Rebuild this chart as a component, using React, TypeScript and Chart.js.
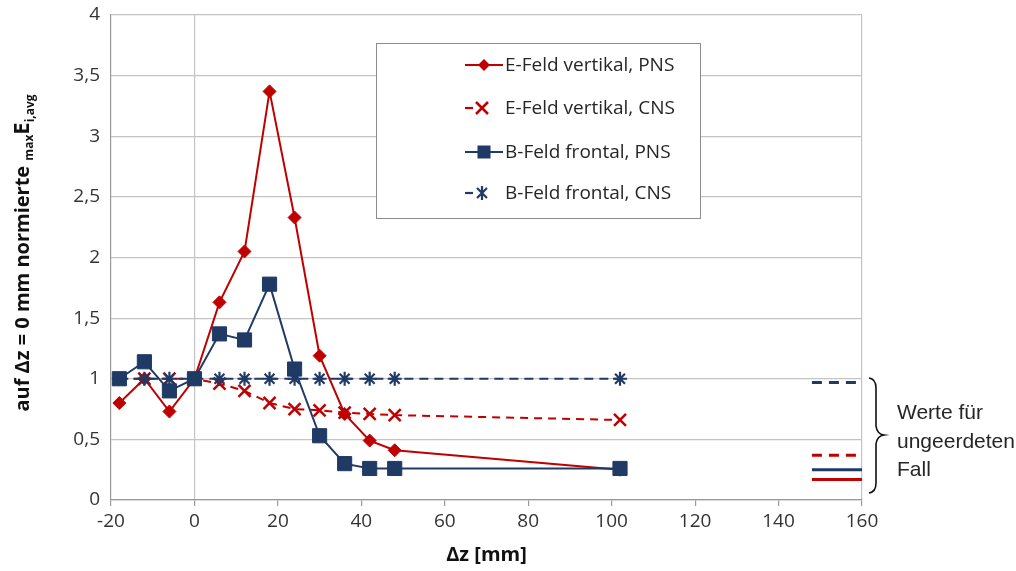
import React, { useEffect, useRef } from 'react';
import { Chart, registerables } from 'chart.js';

Chart.register(...registerables);

// ---- data ----
const dzValues = [-18, -12, -6, 0, 6, 12, 18, 24, 30, 36, 42, 48, 102];
const eVertPNS = [0.8, 1.0, 0.73, 1.0, 1.63, 2.05, 3.37, 2.33, 1.19, 0.71, 0.49, 0.41, 0.25];
const eVertCNS = [1.0, 1.0, 1.0, 1.0, 0.96, 0.9, 0.8, 0.75, 0.74, 0.72, 0.71, 0.7, 0.66];
const bFrontPNS = [1.0, 1.14, 0.9, 1.0, 1.37, 1.32, 1.78, 1.08, 0.53, 0.3, 0.26, 0.26, 0.26];
const bFrontCNS = [1.0, 1.0, 1.0, 1.0, 1.0, 1.0, 1.0, 1.0, 1.0, 1.0, 1.0, 1.0, 1.0];

// ungrounded case reference values (short lines at the right)
const ungroundedX = [148, 160];
const ungroundedEPNS = [0.17, 0.17];
const ungroundedECNS = [0.37, 0.37];
const ungroundedBPNS = [0.25, 0.25];
const ungroundedBCNS = [0.97, 0.97];

const seriesLabels = ['E-Feld vertikal, PNS', 'E-Feld vertikal, CNS', 'B-Feld frontal, PNS', 'B-Feld frontal, CNS'];
const annotationLines = ['Werte für', 'ungeerdeten', 'Fall'];
const xTitle = 'Δz [mm]';
const yTitleMain = 'auf Δz = 0 mm normierte ';
const yTitlePre = 'max';
const yTitleE = 'E';
const yTitleSub = 'i,avg';

const RED = '#C00000';
const BLUE = '#1F3A64';
const GRID = '#c4c4c4';
const FONT = '"Open Sans", "DejaVu Sans", sans-serif';

const pts = (xs: number[], ys: number[]) => xs.map((x, i) => ({ x, y: ys[i] }));

function drawMarker(ctx: CanvasRenderingContext2D, kind: string, x: number, y: number, color: string) {
  ctx.save();
  ctx.fillStyle = color;
  ctx.strokeStyle = color;
  ctx.setLineDash([]);
  if (kind === 'diamond') {
    const r = 6;
    ctx.beginPath();
    ctx.moveTo(x, y - r);
    ctx.lineTo(x + r, y);
    ctx.lineTo(x, y + r);
    ctx.lineTo(x - r, y);
    ctx.closePath();
    ctx.fill();
  } else if (kind === 'square') {
    const s = 6.5;
    ctx.fillRect(x - s, y - s, 2 * s, 2 * s);
  } else if (kind === 'x') {
    const r = 6;
    ctx.lineWidth = 2.5;
    ctx.beginPath();
    ctx.moveTo(x - r, y - r);
    ctx.lineTo(x + r, y + r);
    ctx.moveTo(x + r, y - r);
    ctx.lineTo(x - r, y + r);
    ctx.stroke();
  } else if (kind === 'star') {
    const r = 7;
    const d = r * Math.SQRT1_2;
    ctx.lineWidth = 2.2;
    ctx.beginPath();
    ctx.moveTo(x, y - r);
    ctx.lineTo(x, y + r);
    ctx.moveTo(x - d, y - d);
    ctx.lineTo(x + d, y + d);
    ctx.moveTo(x + d, y - d);
    ctx.lineTo(x - d, y + d);
    ctx.stroke();
  }
  ctx.restore();
}

const overlayPlugin = {
  id: 'overlay',
  afterDraw(chart: any) {
    const ctx: CanvasRenderingContext2D = chart.ctx;

    // ---- legend box ----
    ctx.save();
    ctx.fillStyle = '#ffffff';
    ctx.fillRect(376.5, 43.5, 324, 175);
    ctx.strokeStyle = '#8c8c8c';
    ctx.lineWidth = 1;
    ctx.strokeRect(376.5, 43.5, 324, 175);
    const rows = [
      { y: 65, color: RED, marker: 'diamond', dashed: false },
      { y: 108, color: RED, marker: 'x', dashed: true },
      { y: 152, color: BLUE, marker: 'square', dashed: false },
      { y: 193, color: BLUE, marker: 'star', dashed: true },
    ];
    rows.forEach((r, i) => {
      ctx.strokeStyle = r.color;
      ctx.lineWidth = 2.2;
      ctx.beginPath();
      if (r.dashed) {
        ctx.moveTo(465, r.y);
        ctx.lineTo(473, r.y);
      } else {
        ctx.moveTo(465, r.y);
        ctx.lineTo(503, r.y);
      }
      ctx.stroke();
      drawMarker(ctx, r.marker, r.dashed ? 482 : 484, r.y, r.color);
      ctx.fillStyle = '#262626';
      ctx.font = `19px ${FONT}`;
      ctx.textBaseline = 'middle';
      ctx.textAlign = 'left';
      ctx.fillText(seriesLabels[i], 505, r.y + 1);
    });
    ctx.restore();

    // ---- y axis title (with subscripts) ----
    ctx.save();
    ctx.translate(22, 253);
    ctx.rotate(-Math.PI / 2);
    const big = `bold 20px ${FONT}`;
    const eFont = `bold 22px ${FONT}`;
    const small = `bold 12px ${FONT}`;
    const parts = [
      { t: yTitleMain, f: big, dy: 0 },
      { t: yTitlePre, f: small, dy: 4 },
      { t: yTitleE, f: eFont, dy: 0 },
      { t: yTitleSub, f: small, dy: 5 },
    ];
    let total = 0;
    parts.forEach((p) => {
      ctx.font = p.f;
      total += ctx.measureText(p.t).width;
    });
    let cx = -total / 2;
    ctx.fillStyle = '#111';
    ctx.textBaseline = 'alphabetic';
    ctx.textAlign = 'left';
    parts.forEach((p) => {
      ctx.font = p.f;
      ctx.fillText(p.t, cx, 7 + p.dy);
      cx += ctx.measureText(p.t).width;
    });
    ctx.restore();

    // ---- brace ----
    ctx.save();
    ctx.strokeStyle = '#111';
    ctx.lineWidth = 1.6;
    ctx.beginPath();
    ctx.moveTo(869, 378);
    ctx.quadraticCurveTo(876, 379, 876, 388);
    ctx.lineTo(876, 426);
    ctx.quadraticCurveTo(877, 434, 884, 435);
    ctx.quadraticCurveTo(877, 436, 876, 444);
    ctx.lineTo(876, 483);
    ctx.quadraticCurveTo(876, 492, 869, 493);
    ctx.stroke();

    ctx.fillStyle = '#262626';
    ctx.font = '21px "Liberation Sans", Arial, sans-serif';
    ctx.textBaseline = 'middle';
    ctx.textAlign = 'left';
    const ys = [413, 442, 470];
    annotationLines.forEach((t, i) => ctx.fillText(t, 897, ys[i]));
    ctx.restore();
  },
};

export default function App() {
  const ref = useRef<HTMLCanvasElement | null>(null);

  useEffect(() => {
    if (!ref.current) return;
    const chart = new Chart(ref.current, {
      type: 'line',
      data: {
        datasets: [
          {
            label: seriesLabels[0],
            data: pts(dzValues, eVertPNS),
            borderColor: RED,
            backgroundColor: RED,
            borderWidth: 2,
            pointStyle: 'rectRot',
            pointRadius: 6.5,
            pointBorderWidth: 1,
            order: 4,
          },
          {
            label: seriesLabels[1],
            data: pts(dzValues, eVertCNS),
            borderColor: RED,
            backgroundColor: RED,
            borderWidth: 2,
            borderDash: [8, 6],
            pointStyle: 'crossRot',
            pointRadius: 8.5,
            pointBorderWidth: 2.5,
            order: 3,
          },
          {
            label: seriesLabels[2],
            data: pts(dzValues, bFrontPNS),
            borderColor: BLUE,
            backgroundColor: BLUE,
            borderWidth: 2,
            pointStyle: 'rect',
            pointRadius: 10,
            pointBorderWidth: 1,
            order: 2,
          },
          {
            label: seriesLabels[3],
            data: pts(dzValues, bFrontCNS),
            borderColor: BLUE,
            backgroundColor: BLUE,
            borderWidth: 2.2,
            borderDash: [9, 6],
            pointStyle: 'star',
            pointRadius: 7,
            pointBorderWidth: 2.2,
            order: 1,
          },
          {
            label: 'ungeerdet E PNS',
            data: pts(ungroundedX, ungroundedEPNS),
            borderColor: RED,
            borderWidth: 3,
            pointRadius: 0,
          },
          {
            label: 'ungeerdet E CNS',
            data: pts(ungroundedX, ungroundedECNS),
            borderColor: RED,
            borderWidth: 3,
            borderDash: [10, 7],
            pointRadius: 0,
          },
          {
            label: 'ungeerdet B PNS',
            data: pts(ungroundedX, ungroundedBPNS),
            borderColor: BLUE,
            borderWidth: 3,
            pointRadius: 0,
          },
          {
            label: 'ungeerdet B CNS',
            data: pts(ungroundedX, ungroundedBCNS),
            borderColor: BLUE,
            borderWidth: 3,
            borderDash: [10, 7],
            pointRadius: 0,
          },
        ],
      },
      options: {
        animation: false,
        responsive: false,
        maintainAspectRatio: false,
        layout: { padding: { left: 0, right: 154, top: 15, bottom: 0 } },
        plugins: {
          legend: { display: false },
          tooltip: { enabled: false },
          title: { display: false },
        },
        scales: {
          x: {
            type: 'linear',
            min: -20,
            max: 160,
            afterFit: (s: any) => {
              s.height = 71;
            },
            ticks: {
              stepSize: 20,
              color: '#333',
              font: { family: FONT, size: 19 },
              padding: 4,
              maxRotation: 0,
            },
            grid: {
              color: (c: any) => (c.tick && (c.tick.value === 0 || c.tick.value === 160) ? GRID : 'rgba(0,0,0,0)'),
              tickColor: '#9a9a9a',
              tickLength: 6,
              lineWidth: 1.2,
            },
            border: { display: true, color: '#9a9a9a', width: 1.2 },
            title: {
              display: true,
              text: xTitle,
              color: '#111',
              font: { family: FONT, size: 20, weight: 'bold' },
              padding: { top: 0, bottom: 4 },
            },
          },
          y: {
            min: 0,
            max: 4,
            afterFit: (s: any) => {
              s.width = 111;
              s.paddingTop = 8;
              s.paddingBottom = 0;
            },
            ticks: {
              stepSize: 0.5,
              color: '#333',
              font: { family: FONT, size: 19 },
              padding: 11,
              callback: (v: any) => String(v).replace('.', ','),
            },
            grid: {
              color: GRID,
              lineWidth: 1.2,
              drawTicks: false,
            },
            border: { display: true, color: '#9a9a9a', width: 1.2 },
          },
        },
      },
      plugins: [overlayPlugin],
    } as any);
    return () => chart.destroy();
  }, []);

  return (
    <div style={{ position: 'absolute', left: 0, top: 0, width: 1016, height: 571, background: '#fff' }}>
      <canvas ref={ref} width={1016} height={571} style={{ width: 1016, height: 571, display: 'block' }} />
    </div>
  );
}
